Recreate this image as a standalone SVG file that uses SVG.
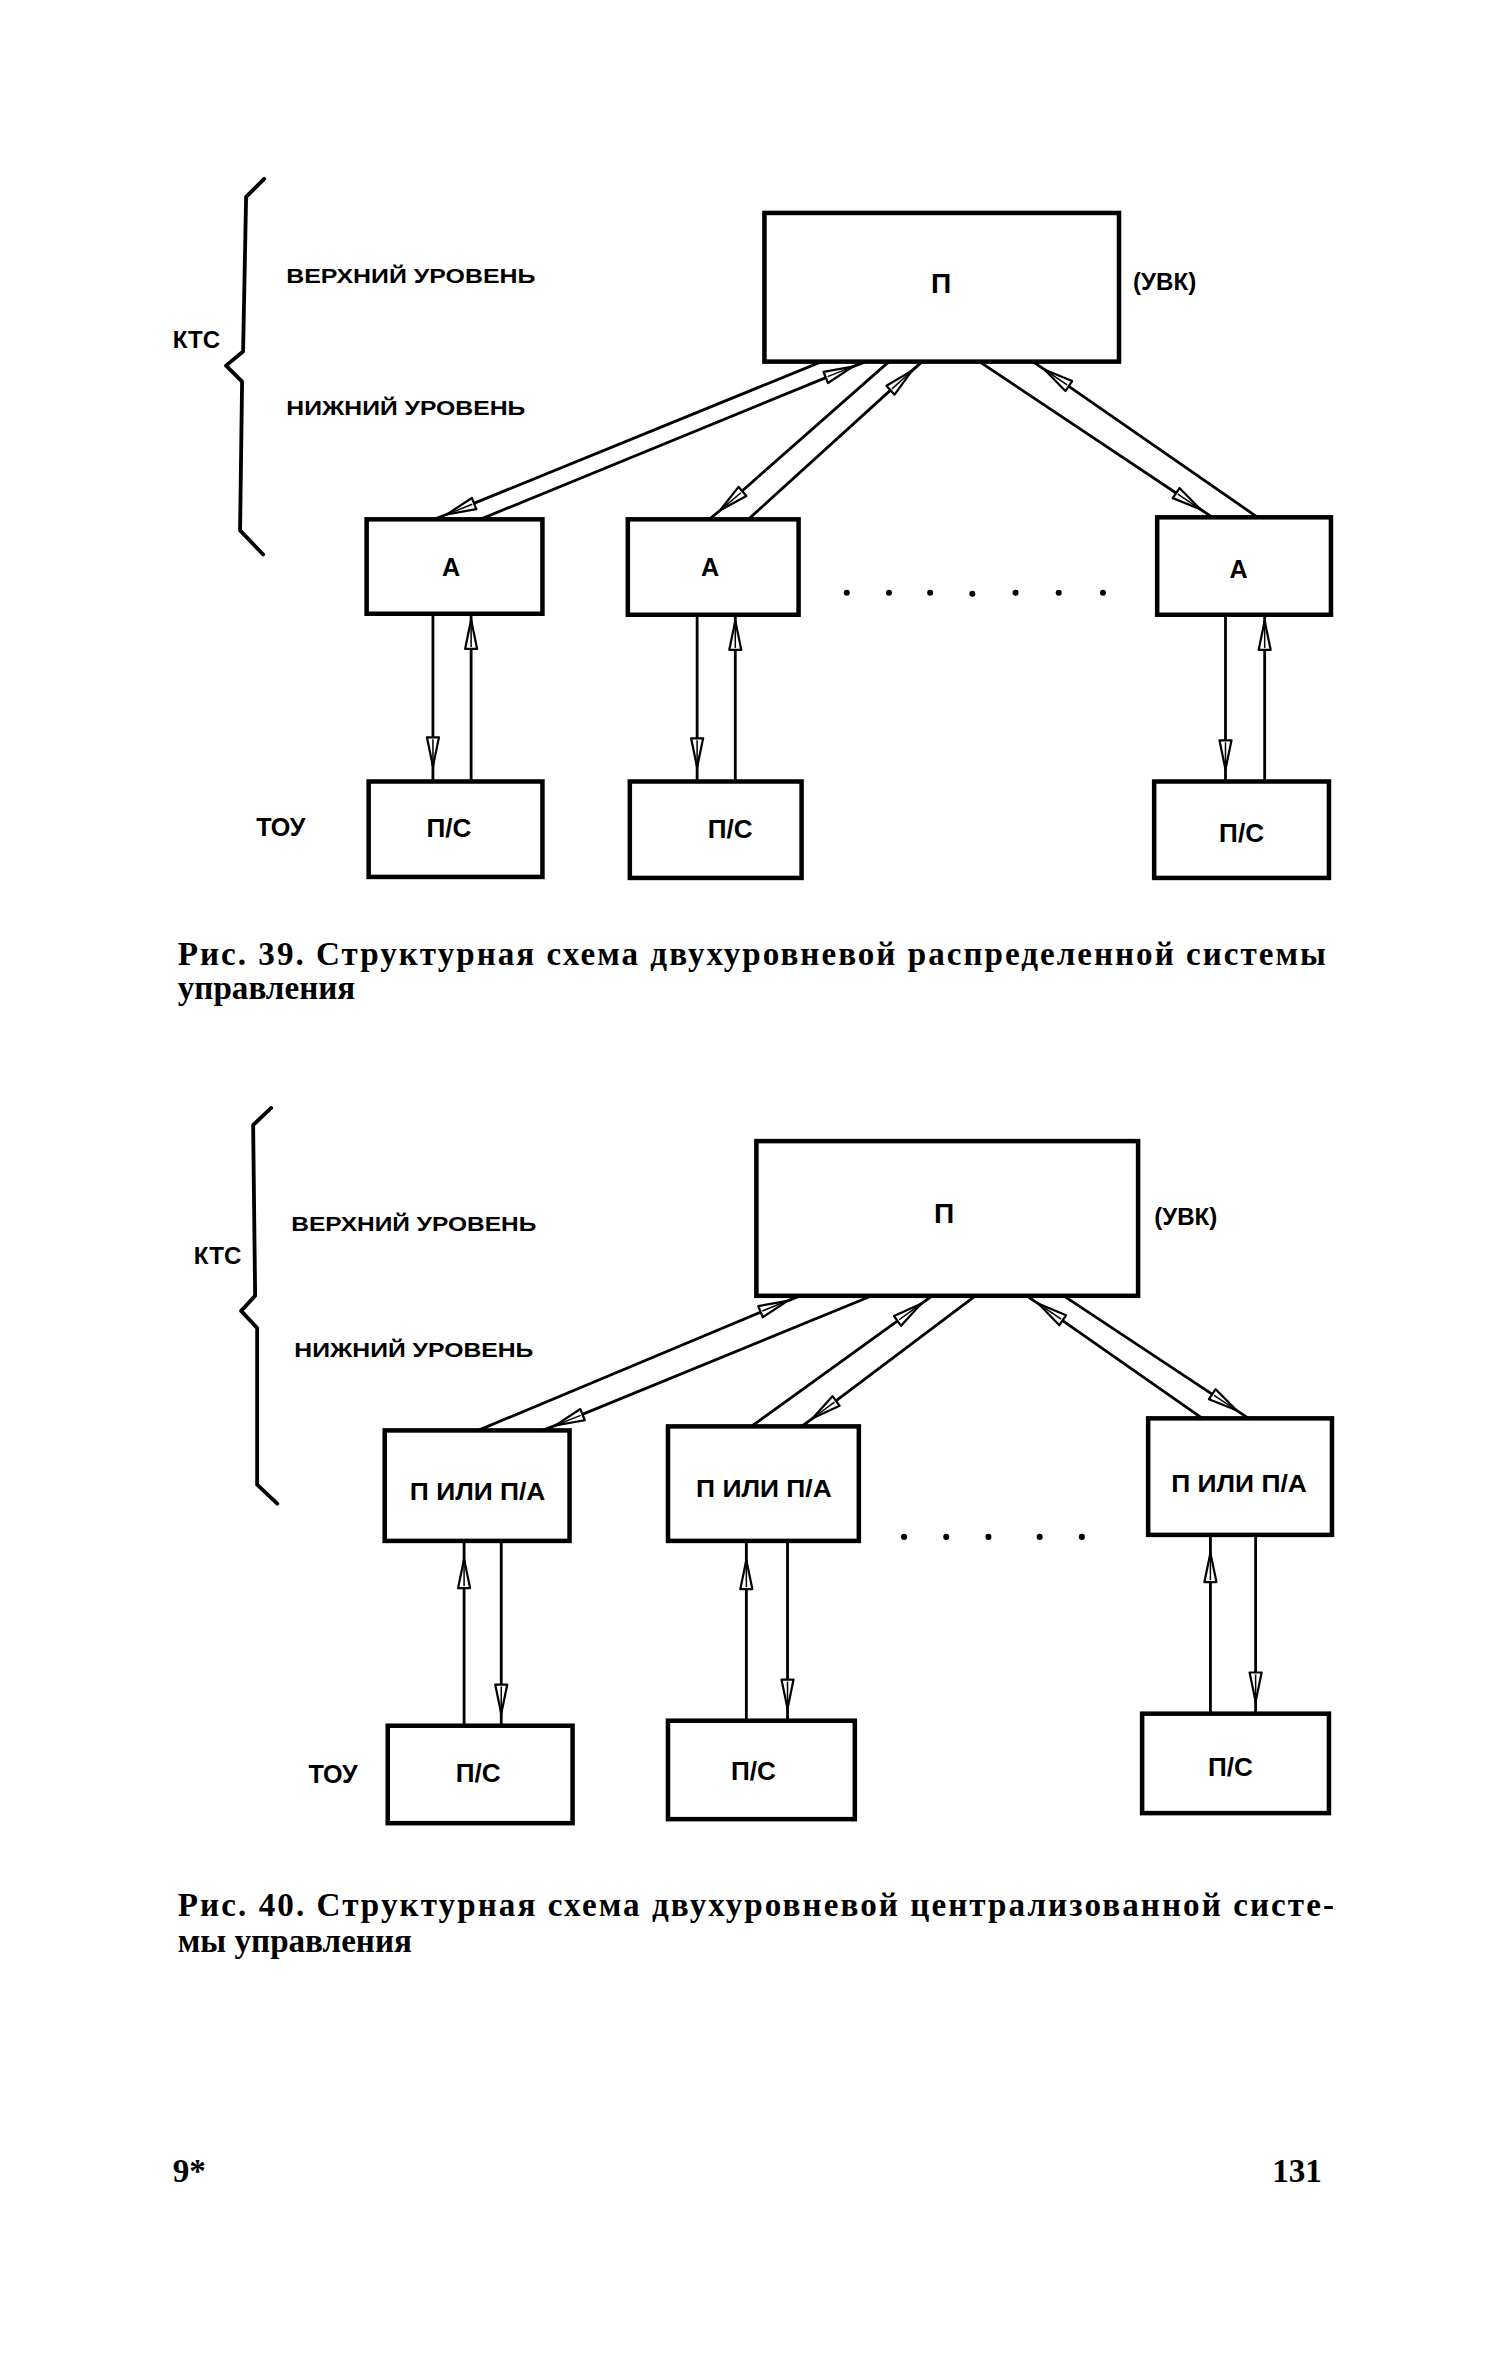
<svg xmlns="http://www.w3.org/2000/svg" width="1500" height="2363" viewBox="0 0 1500 2363">
<style>
.box{fill:none;stroke:#000;stroke-width:4.5}
.ln{fill:none;stroke:#000;stroke-width:2.8;marker-mid:url(#ah)}
.br{fill:none;stroke:#000;stroke-width:3.8;stroke-linejoin:round;stroke-linecap:round}
.lbl{font-family:"Liberation Sans","DejaVu Sans",sans-serif;font-weight:bold;fill:#000}
.c{text-anchor:middle}
.cap{font-family:"Liberation Serif","DejaVu Serif",serif;font-weight:bold;font-size:33px;fill:#000}
.dot{fill:#000}
</style>
<defs>
<marker id="ah" markerUnits="userSpaceOnUse" markerWidth="36" markerHeight="18" viewBox="-33 -9 36 18" refX="0" refY="0" orient="auto">
<path d="M0,0 L-29,-6 L-29,6 Z" fill="#fff" stroke="#000" stroke-width="2.2" stroke-linejoin="round"/>
<path d="M-27,0 L-6,0" stroke="#000" stroke-width="1.5"/>
</marker>
</defs>
<g transform="scale(1.0045)">
<!-- Figure 39 -->
<g id="fig39-brace">
<path class="br" d="M263,178 L245,196 L242,350 L225,364 L241,380 L239,528 L262,552"/>
<text class="lbl" x="172" y="346" font-size="24">КТС</text>
<text class="lbl" x="285" y="282" font-size="20" textLength="248" lengthAdjust="spacingAndGlyphs">ВЕРХНИЙ УРОВЕНЬ</text>
<text class="lbl" x="285" y="413" font-size="20" textLength="238" lengthAdjust="spacingAndGlyphs">НИЖНИЙ УРОВЕНЬ</text>
</g>
<g id="fig39-P">
<rect class="box" x="761" y="212" width="353" height="148"/>
<text class="lbl c" x="937" y="292" font-size="28">П</text>
<text class="lbl" x="1128" y="289" font-size="24">(УВК)</text>
</g>
<g id="fig39-A1"><rect class="box" x="365" y="517" width="175" height="94"/><text class="lbl c" x="449" y="573" font-size="25">А</text></g>
<g id="fig39-A2"><rect class="box" x="625" y="517" width="170" height="95"/><text class="lbl c" x="707" y="573" font-size="25">А</text></g>
<g id="fig39-A3"><rect class="box" x="1152" y="515" width="173" height="97"/><text class="lbl c" x="1233" y="575" font-size="25">А</text></g>
<g id="fig39-PS1"><rect class="box" x="367" y="778" width="173" height="95"/><text class="lbl c" x="447" y="833" font-size="26">П/С</text></g>
<g id="fig39-PS2"><rect class="box" x="627" y="778" width="171" height="96"/><text class="lbl c" x="727" y="834" font-size="26">П/С</text></g>
<g id="fig39-PS3"><rect class="box" x="1149" y="778" width="174" height="96"/><text class="lbl c" x="1236" y="838" font-size="26">П/С</text></g>
<g id="fig39-TOU"><text class="lbl" x="255" y="832" font-size="25">ТОУ</text></g>
<g id="fig39-dots">
<circle class="dot" cx="843" cy="590" r="3"/><circle class="dot" cx="885" cy="590" r="3"/><circle class="dot" cx="926" cy="590" r="3"/><circle class="dot" cx="968" cy="591" r="3"/><circle class="dot" cx="1011" cy="590" r="3"/><circle class="dot" cx="1054" cy="590" r="3"/><circle class="dot" cx="1098" cy="590" r="3"/>
</g>
<g id="fig39-connectors">
<path class="ln" d="M818,360 L445,512 L432,517"/>
<path class="ln" d="M478,517 L849,365 L862,360"/>
<path class="ln" d="M885,360 L717,508 L706,517"/>
<path class="ln" d="M745,517 L908,369 L918,360"/>
<path class="ln" d="M975,360 L1195,507 L1207,515"/>
<path class="ln" d="M1252,515 L1040,368 L1028,360"/>
<path class="ln" d="M431,611 L431,763 L431,778"/>
<path class="ln" d="M469,778 L469,617 L469,611"/>
<path class="ln" d="M694,612 L694,764 L694,778"/>
<path class="ln" d="M732,778 L732,618 L732,612"/>
<path class="ln" d="M1220,612 L1220,766 L1220,778"/>
<path class="ln" d="M1259,778 L1259,618 L1259,612"/>
</g>
<g id="fig39-caption">
<text class="cap" x="177" y="961" textLength="1143" lengthAdjust="spacing">Рис. 39. Структурная схема двухуровневой распределенной системы</text>
<text class="cap" x="177" y="995">управления</text>
</g>

<!-- Figure 40 -->
<g id="fig40-brace">
<path class="br" d="M270,1103 L252,1120 L254,1290 L240,1305 L256,1322 L256,1478 L276,1497"/>
<text class="lbl" x="193" y="1258" font-size="24">КТС</text>
<text class="lbl" x="290" y="1225" font-size="20" textLength="244" lengthAdjust="spacingAndGlyphs">ВЕРХНИЙ УРОВЕНЬ</text>
<text class="lbl" x="293" y="1351" font-size="20" textLength="238" lengthAdjust="spacingAndGlyphs">НИЖНИЙ УРОВЕНЬ</text>
</g>
<g id="fig40-P">
<rect class="box" x="753" y="1136" width="380" height="154"/>
<text class="lbl c" x="940" y="1218" font-size="28">П</text>
<text class="lbl" x="1149" y="1220" font-size="24">(УВК)</text>
</g>
<g id="fig40-B1"><rect class="box" x="383" y="1424" width="184" height="110"/><text class="lbl" x="408" y="1493" font-size="23" textLength="135" lengthAdjust="spacingAndGlyphs">П ИЛИ П/А</text></g>
<g id="fig40-B2"><rect class="box" x="665" y="1420" width="190" height="114"/><text class="lbl" x="693" y="1490" font-size="23" textLength="135" lengthAdjust="spacingAndGlyphs">П ИЛИ П/А</text></g>
<g id="fig40-B3"><rect class="box" x="1143" y="1412" width="183" height="116"/><text class="lbl" x="1166" y="1485" font-size="23" textLength="135" lengthAdjust="spacingAndGlyphs">П ИЛИ П/А</text></g>
<g id="fig40-PS1"><rect class="box" x="386" y="1718" width="184" height="97"/><text class="lbl c" x="476" y="1774" font-size="26">П/С</text></g>
<g id="fig40-PS2"><rect class="box" x="665" y="1713" width="186" height="98"/><text class="lbl c" x="750" y="1772" font-size="26">П/С</text></g>
<g id="fig40-PS3"><rect class="box" x="1137" y="1706" width="186" height="99"/><text class="lbl c" x="1225" y="1768" font-size="26">П/С</text></g>
<g id="fig40-TOU"><text class="lbl" x="307" y="1775" font-size="25">ТОУ</text></g>
<g id="fig40-dots">
<circle class="dot" cx="900" cy="1530" r="3"/><circle class="dot" cx="942" cy="1530" r="3"/><circle class="dot" cx="984" cy="1530" r="3"/><circle class="dot" cx="1035" cy="1530" r="3"/><circle class="dot" cx="1077" cy="1530" r="3"/>
</g>
<g id="fig40-connectors">
<path class="ln" d="M476,1424 L784,1295 L797,1290"/>
<path class="ln" d="M868,1290 L553,1419 L540,1424"/>
<path class="ln" d="M748,1420 L917,1298 L928,1290"/>
<path class="ln" d="M971,1290 L809,1412 L798,1420"/>
<path class="ln" d="M1197,1412 L1034,1298 L1022,1290"/>
<path class="ln" d="M1059,1290 L1231,1404 L1243,1412"/>
<path class="ln" d="M462,1718 L462,1552 L462,1534"/>
<path class="ln" d="M499,1534 L499,1706 L499,1718"/>
<path class="ln" d="M743,1713 L743,1553 L743,1534"/>
<path class="ln" d="M784,1534 L784,1701 L784,1713"/>
<path class="ln" d="M1205,1706 L1205,1546 L1205,1528"/>
<path class="ln" d="M1250,1528 L1250,1694 L1250,1706"/>
</g>
<g id="fig40-caption">
<text class="cap" x="177" y="1907" textLength="1151" lengthAdjust="spacing">Рис. 40. Структурная схема двухуровневой централизованной систе-</text>
<text class="cap" x="177" y="1943">мы управления</text>
</g>

<g id="page-footer">
<text class="cap" x="172" y="2172">9*</text>
<text class="cap" x="1316" y="2172" text-anchor="end">131</text>
</g>
</g>
</svg>
